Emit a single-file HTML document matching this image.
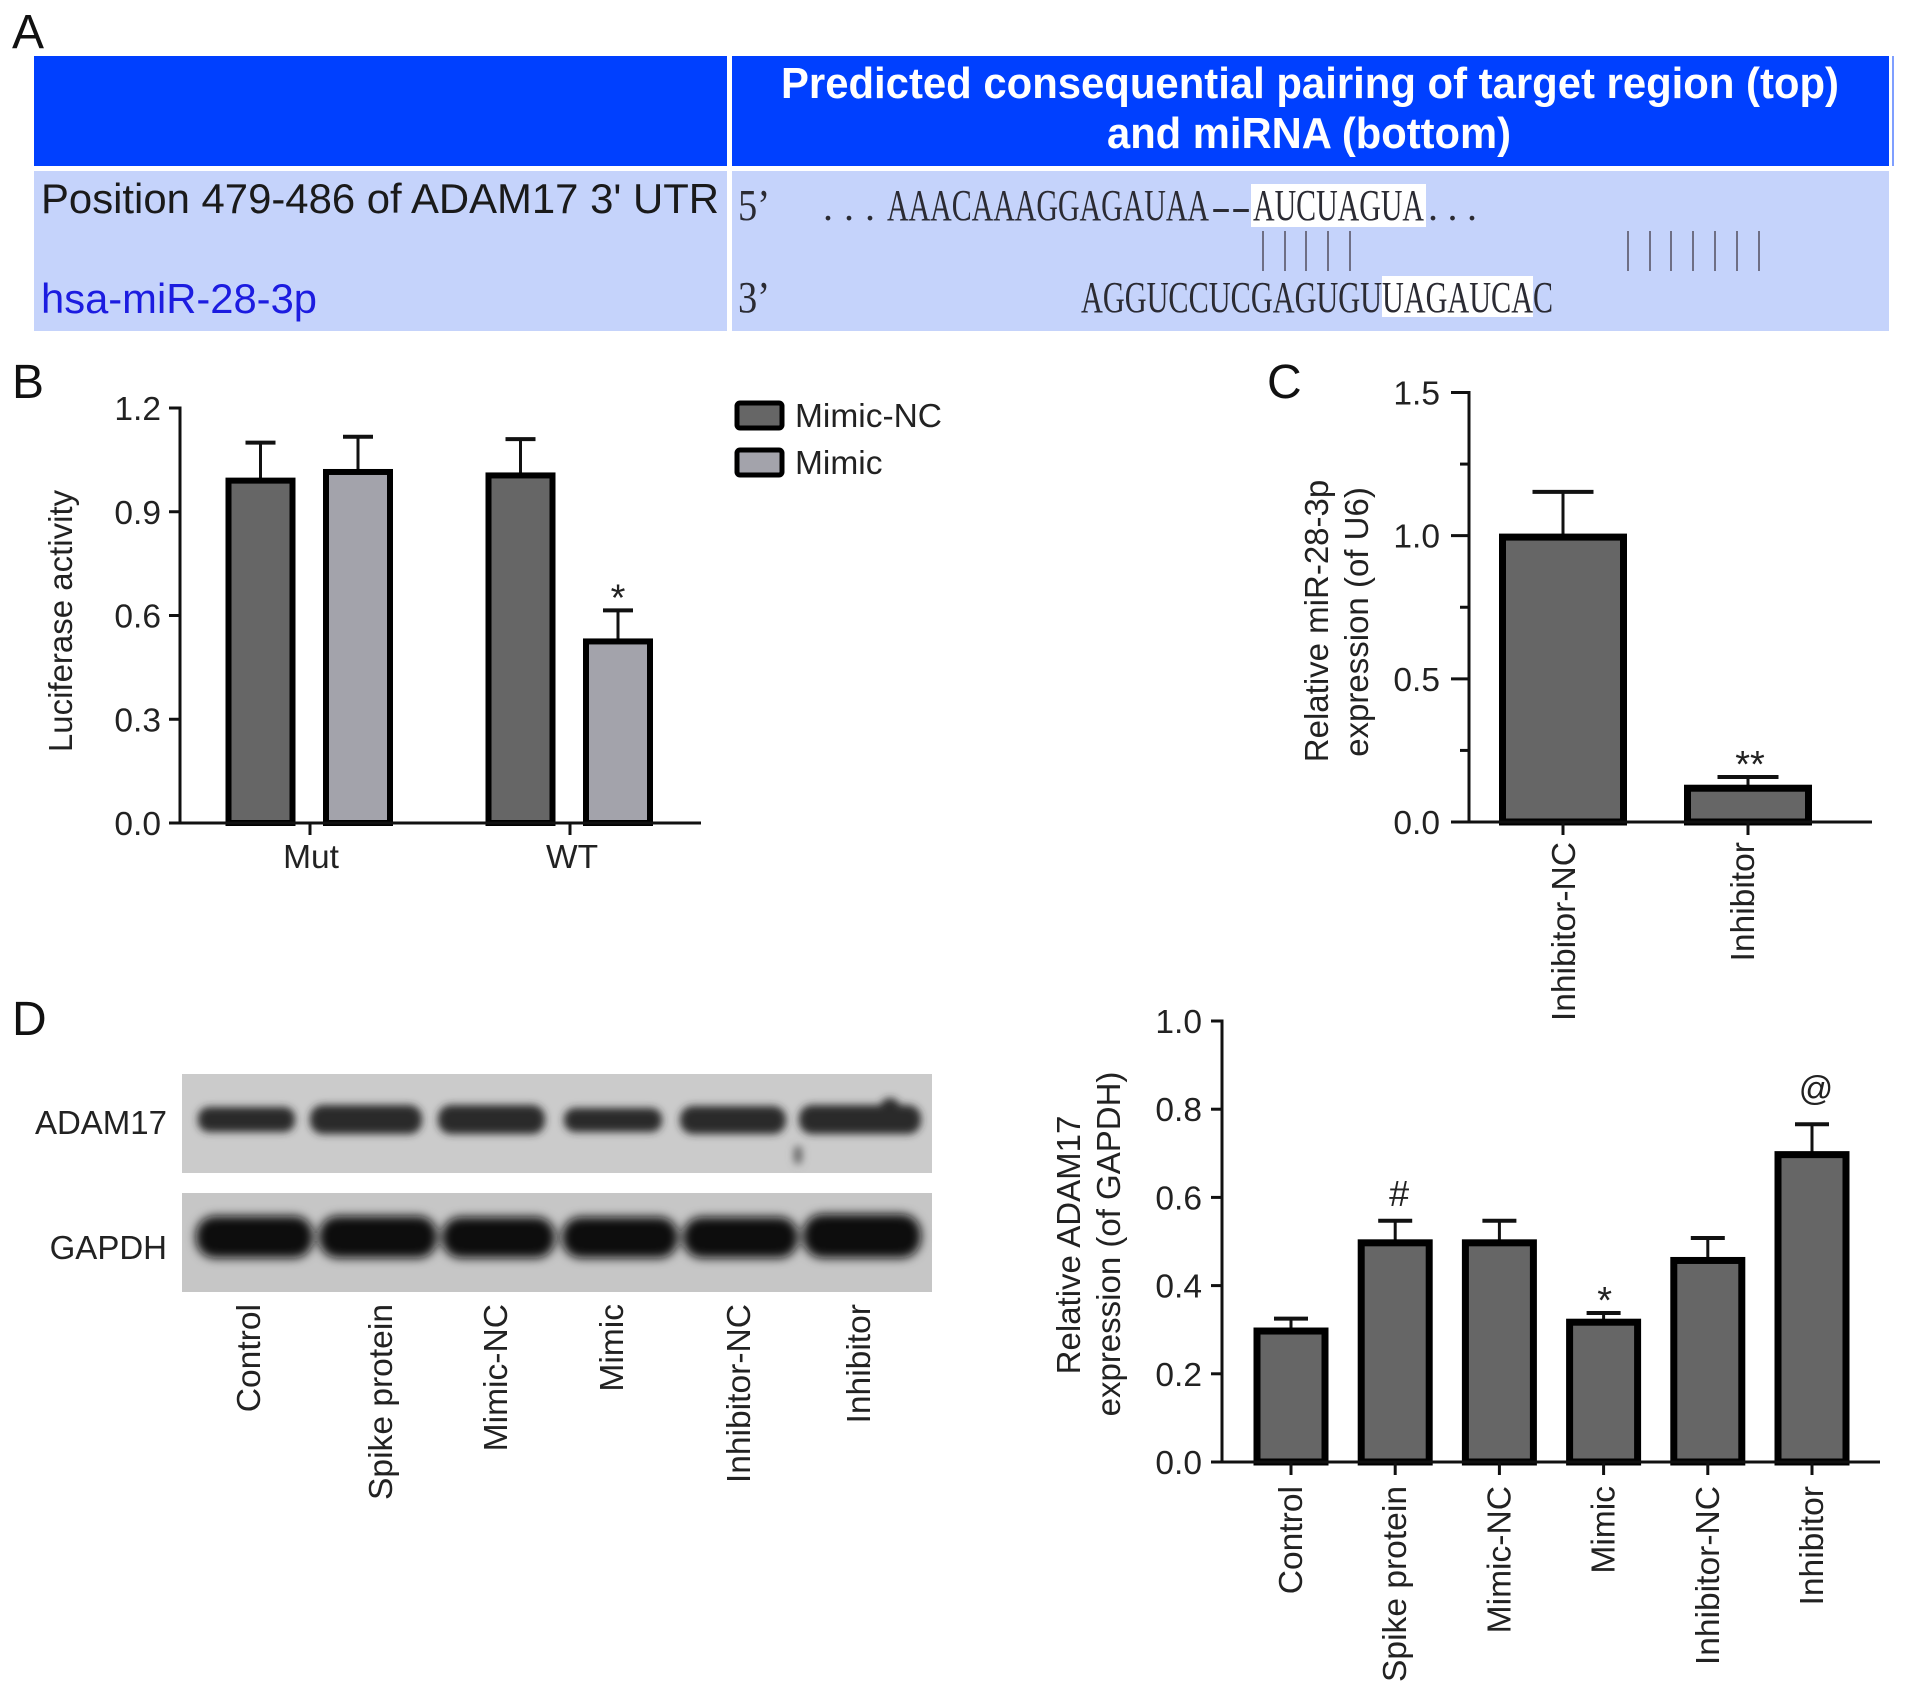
<!DOCTYPE html>
<html lang="en">
<head>
<meta charset="utf-8">
<title>ADAM17 and miR-28-3p figure</title>
<style>
html,body{margin:0;padding:0;background:#fff;}
svg{display:block;}
text{font-family:"Liberation Sans",Arial,sans-serif;fill:#222;}
.serif{font-family:"Liberation Serif","Times New Roman",serif;fill:#2b2b33;}
.letter{font-size:48px;fill:#111;}
</style>
</head>
<body>
<svg id="fig" width="1913" height="1695" viewBox="0 0 1913 1695">
  <defs>
    <filter id="blur-band" x="-20%" y="-60%" width="140%" height="220%"><feGaussianBlur stdDeviation="4"/></filter>
    <filter id="blur-band-big" x="-20%" y="-60%" width="140%" height="220%"><feGaussianBlur stdDeviation="5"/></filter>
  </defs>

  <rect x="0" y="0" width="1913" height="1695" fill="#fff"/>

  <!-- Panel A -->
  <g>
    <text class="letter" x="12" y="48">A</text>
    <rect x="34" y="56" width="693" height="110" fill="#0040ff"/>
    <rect x="732" y="56" width="1157" height="110" fill="#0040ff"/>
    <rect x="1892" y="56" width="2" height="110" fill="#7f9fff"/>
    <rect x="34" y="171" width="693" height="160" fill="#c5d3fb"/>
    <rect x="732" y="171" width="1157" height="160" fill="#c5d3fb"/>
    <text x="781" y="98" font-size="44" font-weight="700" textLength="1058" lengthAdjust="spacingAndGlyphs" style="fill:#fff">Predicted consequential pairing of target region (top)</text>
    <text x="1107" y="148" font-size="44" font-weight="700" textLength="404" lengthAdjust="spacingAndGlyphs" style="fill:#fff">and miRNA (bottom)</text>
    <text x="41" y="213" font-size="42" textLength="678" lengthAdjust="spacingAndGlyphs" style="fill:#1a1a1a">Position 479-486 of ADAM17 3' UTR</text>
    <text x="41" y="313" font-size="42" textLength="276" lengthAdjust="spacingAndGlyphs" style="fill:#1c1ce0">hsa-miR-28-3p</text>
    <rect x="1251" y="184" width="175" height="43" fill="#fff"/>
    <rect x="1382" y="276" width="151" height="41" fill="#fff"/>
    <text class="serif" x="738" y="220" font-size="44" textLength="32" lengthAdjust="spacingAndGlyphs">5’</text>
    <text class="serif" x="738" y="312" font-size="44" textLength="32" lengthAdjust="spacingAndGlyphs">3’</text>
    <text class="serif" x="823" y="220" font-size="40" textLength="52">. . .</text>
    <text class="serif" x="887" y="220" font-size="44" textLength="322" lengthAdjust="spacingAndGlyphs">AAACAAAGGAGAUAA</text>
    <text class="serif" x="1211" y="220" font-size="40" textLength="40" lengthAdjust="spacingAndGlyphs">--</text>
    <text class="serif" x="1253" y="220" font-size="44" textLength="171" lengthAdjust="spacingAndGlyphs">AUCUAGUA</text>
    <text class="serif" x="1428" y="220" font-size="40" textLength="49">. . .</text>
    <text class="serif" x="1081" y="312" font-size="44" textLength="301" lengthAdjust="spacingAndGlyphs">AGGUCCUCGAGUGU</text>
    <text class="serif" x="1382" y="312" font-size="44" textLength="151" lengthAdjust="spacingAndGlyphs">UAGAUCA</text>
    <text class="serif" x="1533" y="312" font-size="44" textLength="20" lengthAdjust="spacingAndGlyphs">C</text>
    <g stroke="#6f6f85" stroke-width="2">
      <line x1="1263" x2="1263" y1="231" y2="271"/><line x1="1285" x2="1285" y1="231" y2="271"/><line x1="1306" x2="1306" y1="231" y2="271"/><line x1="1328" x2="1328" y1="231" y2="271"/><line x1="1350" x2="1350" y1="231" y2="271"/>
      <line x1="1628" x2="1628" y1="231" y2="271"/><line x1="1650" x2="1650" y1="231" y2="271"/><line x1="1671" x2="1671" y1="231" y2="271"/><line x1="1693" x2="1693" y1="231" y2="271"/><line x1="1715" x2="1715" y1="231" y2="271"/><line x1="1737" x2="1737" y1="231" y2="271"/><line x1="1759" x2="1759" y1="231" y2="271"/>
    </g>
  </g>

  <text class="letter" x="12" y="398">B</text>
  <text class="letter" x="1267" y="398">C</text>
  <text class="letter" x="12" y="1035">D</text>

  <g id="panel-b"></g>
  <g id="panel-c"></g>

  <!-- Panel D western blot -->
  <g>
    <rect x="182" y="1074" width="750" height="99" fill="#cbcbcb"/>
    <rect x="182" y="1193" width="750" height="99" fill="#c6c6c6"/>
    <g fill="#2b2b2b" filter="url(#blur-band)">
      <rect x="198" y="1107" width="97" height="25" rx="11"/>
      <rect x="310" y="1105" width="112" height="29" rx="13"/>
      <rect x="438" y="1105" width="107" height="29" rx="13"/>
      <rect x="564" y="1108" width="98" height="24" rx="11"/>
      <rect x="680" y="1106" width="106" height="28" rx="13"/>
      <rect x="799" y="1105" width="122" height="29" rx="13"/>
      <rect x="880" y="1098" width="20" height="20" rx="10"/>
      <rect x="794" y="1146" width="8" height="18" rx="4" fill="#666"/>
    </g>
    <g fill="#0d0d0d" filter="url(#blur-band-big)">
      <rect x="196" y="1216" width="117" height="42" rx="19"/>
      <rect x="319" y="1216" width="118" height="42" rx="19"/>
      <rect x="442" y="1217" width="113" height="41" rx="19"/>
      <rect x="562" y="1217" width="116" height="41" rx="19"/>
      <rect x="683" y="1217" width="115" height="41" rx="19"/>
      <rect x="803" y="1214" width="118" height="44" rx="20"/>
    </g>
    <text x="167" y="1134" font-size="33" text-anchor="end">ADAM17</text>
    <text x="167" y="1259" font-size="33" text-anchor="end">GAPDH</text>
    <g font-size="33.6" text-anchor="end">
      <text transform="translate(260 1304) rotate(-90)">Control</text>
      <text transform="translate(392 1304) rotate(-90)">Spike protein</text>
      <text transform="translate(507 1304) rotate(-90)">Mimic-NC</text>
      <text transform="translate(623 1304) rotate(-90)">Mimic</text>
      <text transform="translate(750 1304) rotate(-90)">Inhibitor-NC</text>
      <text transform="translate(870 1304) rotate(-90)">Inhibitor</text>
    </g>
  </g>

  <g id="panel-d"></g>
</svg>

<script>
// Panel B data
const panelBCategories = ['Mut', 'WT'];
const panelBSeriesNames = ['Mimic-NC', 'Mimic'];
const panelBMimicNC = [0.99, 1.005];
const panelBMimic = [1.015, 0.525];
const panelBMimicNCError = [0.11, 0.105];
const panelBMimicError = [0.102, 0.09];
const panelBMimicMarks = ['', '*'];
const panelBTicks = [0, 0.3, 0.6, 0.9, 1.2];
const panelBTickLabels = ['0.0', '0.3', '0.6', '0.9', '1.2'];

// Panel C data
const panelCCategories = ['Inhibitor-NC', 'Inhibitor'];
const panelCValues = [0.995, 0.118];
const panelCErrors = [0.158, 0.039];
const panelCMarks = ['', '**'];
const panelCTicks = [0, 0.5, 1.0, 1.5];
const panelCTickLabels = ['0.0', '0.5', '1.0', '1.5'];
const panelCMinorTicks = [0.25, 0.75, 1.25];

// Panel D data
const panelDCategories = ['Control', 'Spike protein', 'Mimic-NC', 'Mimic', 'Inhibitor-NC', 'Inhibitor'];
const panelDValues = [0.297, 0.497, 0.497, 0.317, 0.457, 0.697];
const panelDErrors = [0.028, 0.05, 0.05, 0.021, 0.051, 0.069];
const panelDMarks = ['', '#', '', '*', '', '@'];
const panelDTicks = [0, 0.2, 0.4, 0.6, 0.8, 1.0];
const panelDTickLabels = ['0.0', '0.2', '0.4', '0.6', '0.8', '1.0'];

const NS = document.getElementById('fig').namespaceURI;

function mk(parent, tag, attrs, content) {
  const el = document.createElementNS(NS, tag);
  for (const k in attrs) el.setAttribute(k, attrs[k]);
  if (content !== undefined) el.textContent = content;
  parent.appendChild(el);
  return el;
}

function linearY(y0, yTop, maxValue) {
  return function (v) { return y0 - (y0 - yTop) * v / maxValue; };
}

function drawYAxis(g, scale, axisX, tickLen, ticks, labels, labelX, minorTicks) {
  const axis = mk(g, 'line', {x1: axisX, x2: axisX, y1: scale(ticks[ticks.length - 1]) - 1.5, y2: scale(0), stroke: '#111', 'stroke-width': 3});
  
  
  ticks.forEach(function (t, i) {
    const tick = mk(g, 'line', {x1: axisX - tickLen, x2: axisX, y1: scale(t), y2: scale(t), stroke: '#111', 'stroke-width': 3});
    
    
    const label = mk(g, 'text', {x: labelX, y: scale(t) + 12, 'font-size': 33.5, 'text-anchor': 'end'}, labels[i]);
    
    
  });
  (minorTicks || []).forEach(function (t) {
    const minor = mk(g, 'line', {x1: axisX - tickLen / 2, x2: axisX, y1: scale(t), y2: scale(t), stroke: '#111', 'stroke-width': 3});
    
    
  });
}

function drawXAxis(g, y0, x1, x2) {
  const axis = mk(g, 'line', {x1: x1, x2: x2, y1: y0, y2: y0, stroke: '#111', 'stroke-width': 3});
  
  
}

function drawXTick(g, x, y0, len) {
  const tick = mk(g, 'line', {x1: x, x2: x, y1: y0, y2: y0 + len, stroke: '#111', 'stroke-width': 3});
  
  
}

function drawRotatedLabel(g, text, baselineX, topY) {
  const label = mk(g, 'text', {transform: 'translate(' + baselineX + ' ' + topY + ') rotate(-90)', 'font-size': 33.6, 'text-anchor': 'end'}, text);
  
  
}

function drawBar(g, scale, cx, width, value, err, fill, capWidth, strokeW, stemW) {
  const top = scale(value);
  const errTop = scale(value + err);
  const stem = mk(g, 'line', {x1: cx, x2: cx, y1: top, y2: errTop, stroke: '#111', 'stroke-width': stemW});
  
  
  const cap = mk(g, 'line', {x1: cx - capWidth / 2, x2: cx + capWidth / 2, y1: errTop, y2: errTop, stroke: '#111', 'stroke-width': stemW + 1});
  
  
  const bar = mk(g, 'rect', {x: cx - width / 2 + strokeW / 2, y: top, width: width - strokeW, height: scale(0) - top, fill: fill, stroke: '#000', 'stroke-width': strokeW});
  
  
  return errTop;
}

function drawMark(g, mark, x, errTop) {
  if (!mark) return;
  const lift = mark.charAt(0) === '*' ? 0 : (mark === '#' ? 15 : 24);
  const size = mark.charAt(0) === '*' ? 38 : (mark === '#' ? 36 : 34);
  const el = mk(g, 'text', {x: x, y: errTop - lift, 'font-size': size, 'text-anchor': 'middle'}, mark);
  
  
}

function drawYTitle(g, text, baselineX, centerY, name) {
  const title = mk(g, 'text', {transform: 'translate(' + baselineX + ' ' + centerY + ') rotate(-90)', 'font-size': 33, 'text-anchor': 'middle'}, text);
  
  
}

/* ---------- Panel B ---------- */
(function () {
  const g = document.getElementById('panel-b');
  const y = linearY(823, 408, 1.2);
  const groupX = function (i) { return 310 + 260 * i; };
  const fills = ['#666666', '#a3a3ab'];
  const seriesValues = [panelBMimicNC, panelBMimic];
  const seriesErrors = [panelBMimicNCError, panelBMimicError];
  const seriesMarks = [['', ''], panelBMimicMarks];
  seriesValues.forEach(function (vals, s) {
    vals.forEach(function (v, i) {
      const cx = groupX(i) + (s === 0 ? -49.5 : 48);
      const errTop = drawBar(g, y, cx, 70, v, seriesErrors[s][i], fills[s], 30, 6, 3);
      drawMark(g, seriesMarks[s][i], cx, errTop);
    });
  });
  drawYAxis(g, y, 180, 11, panelBTicks, panelBTickLabels, 161);
  drawXAxis(g, 823, 169, 701);
  panelBCategories.forEach(function (c, i) {
    drawXTick(g, groupX(i), 823, 12);
    const label = mk(g, 'text', {x: groupX(i) + 1 + i, y: 868, 'font-size': 33.5, 'text-anchor': 'middle'}, c);
    
    
  });
  drawYTitle(g, 'Luciferase activity', 72, 621, 'y-axis-title');
  panelBSeriesNames.forEach(function (n, s) {
    const top = 403 + 47 * s;
    const swatch = mk(g, 'rect', {x: 737, y: top, width: 45, height: 25, rx: 3, fill: fills[s], stroke: '#000', 'stroke-width': 5});
    
    
    const label = mk(g, 'text', {x: 795, y: top + 24, 'font-size': 33.5}, n);
    
    
  });
})();

/* ---------- Panel C ---------- */
(function () {
  const g = document.getElementById('panel-c');
  const y = linearY(822, 392.5, 1.5);
  const barX = function (i) { return 1563 + 185 * i; };
  panelCValues.forEach(function (v, i) {
    const errTop = drawBar(g, y, barX(i), 128, v, panelCErrors[i], '#666666', 61, 7, 3);
    drawMark(g, panelCMarks[i], barX(i) + 2, errTop);
  });
  drawYAxis(g, y, 1469, 18, panelCTicks, panelCTickLabels, 1440, panelCMinorTicks);
  drawXAxis(g, 822, 1451, 1872);
  panelCCategories.forEach(function (c, i) {
    drawXTick(g, barX(i), 822, 13);
    drawRotatedLabel(g, c, barX(i) + 12 - 6 * i, 842);
  });
  drawYTitle(g, 'Relative miR-28-3p', 1328, 621, 'y-axis-title-line-1');
  drawYTitle(g, 'expression (of U6)', 1368, 622, 'y-axis-title-line-2');
})();

/* ---------- Panel D ---------- */
(function () {
  const g = document.getElementById('panel-d');
  const y = linearY(1462, 1021, 1.0);
  const barX = function (i) { return 1291 + 104.2 * i; };
  panelDValues.forEach(function (v, i) {
    const errTop = drawBar(g, y, barX(i), 75, v, panelDErrors[i], '#666666', 34, 7, 3);
    drawMark(g, panelDMarks[i], barX(i) + (i === 3 ? 1 : 4), errTop);
  });
  drawYAxis(g, y, 1222, 11, panelDTicks, panelDTickLabels, 1202);
  drawXAxis(g, 1462, 1211, 1880);
  panelDCategories.forEach(function (c, i) {
    drawXTick(g, barX(i), 1462, 13);
    drawRotatedLabel(g, c, barX(i) + 11, 1486);
  });
  drawYTitle(g, 'Relative ADAM17', 1080, 1245, 'y-axis-title-line-1');
  drawYTitle(g, 'expression (of GAPDH)', 1120, 1244, 'y-axis-title-line-2');
})();
</script>
</body>
</html>
